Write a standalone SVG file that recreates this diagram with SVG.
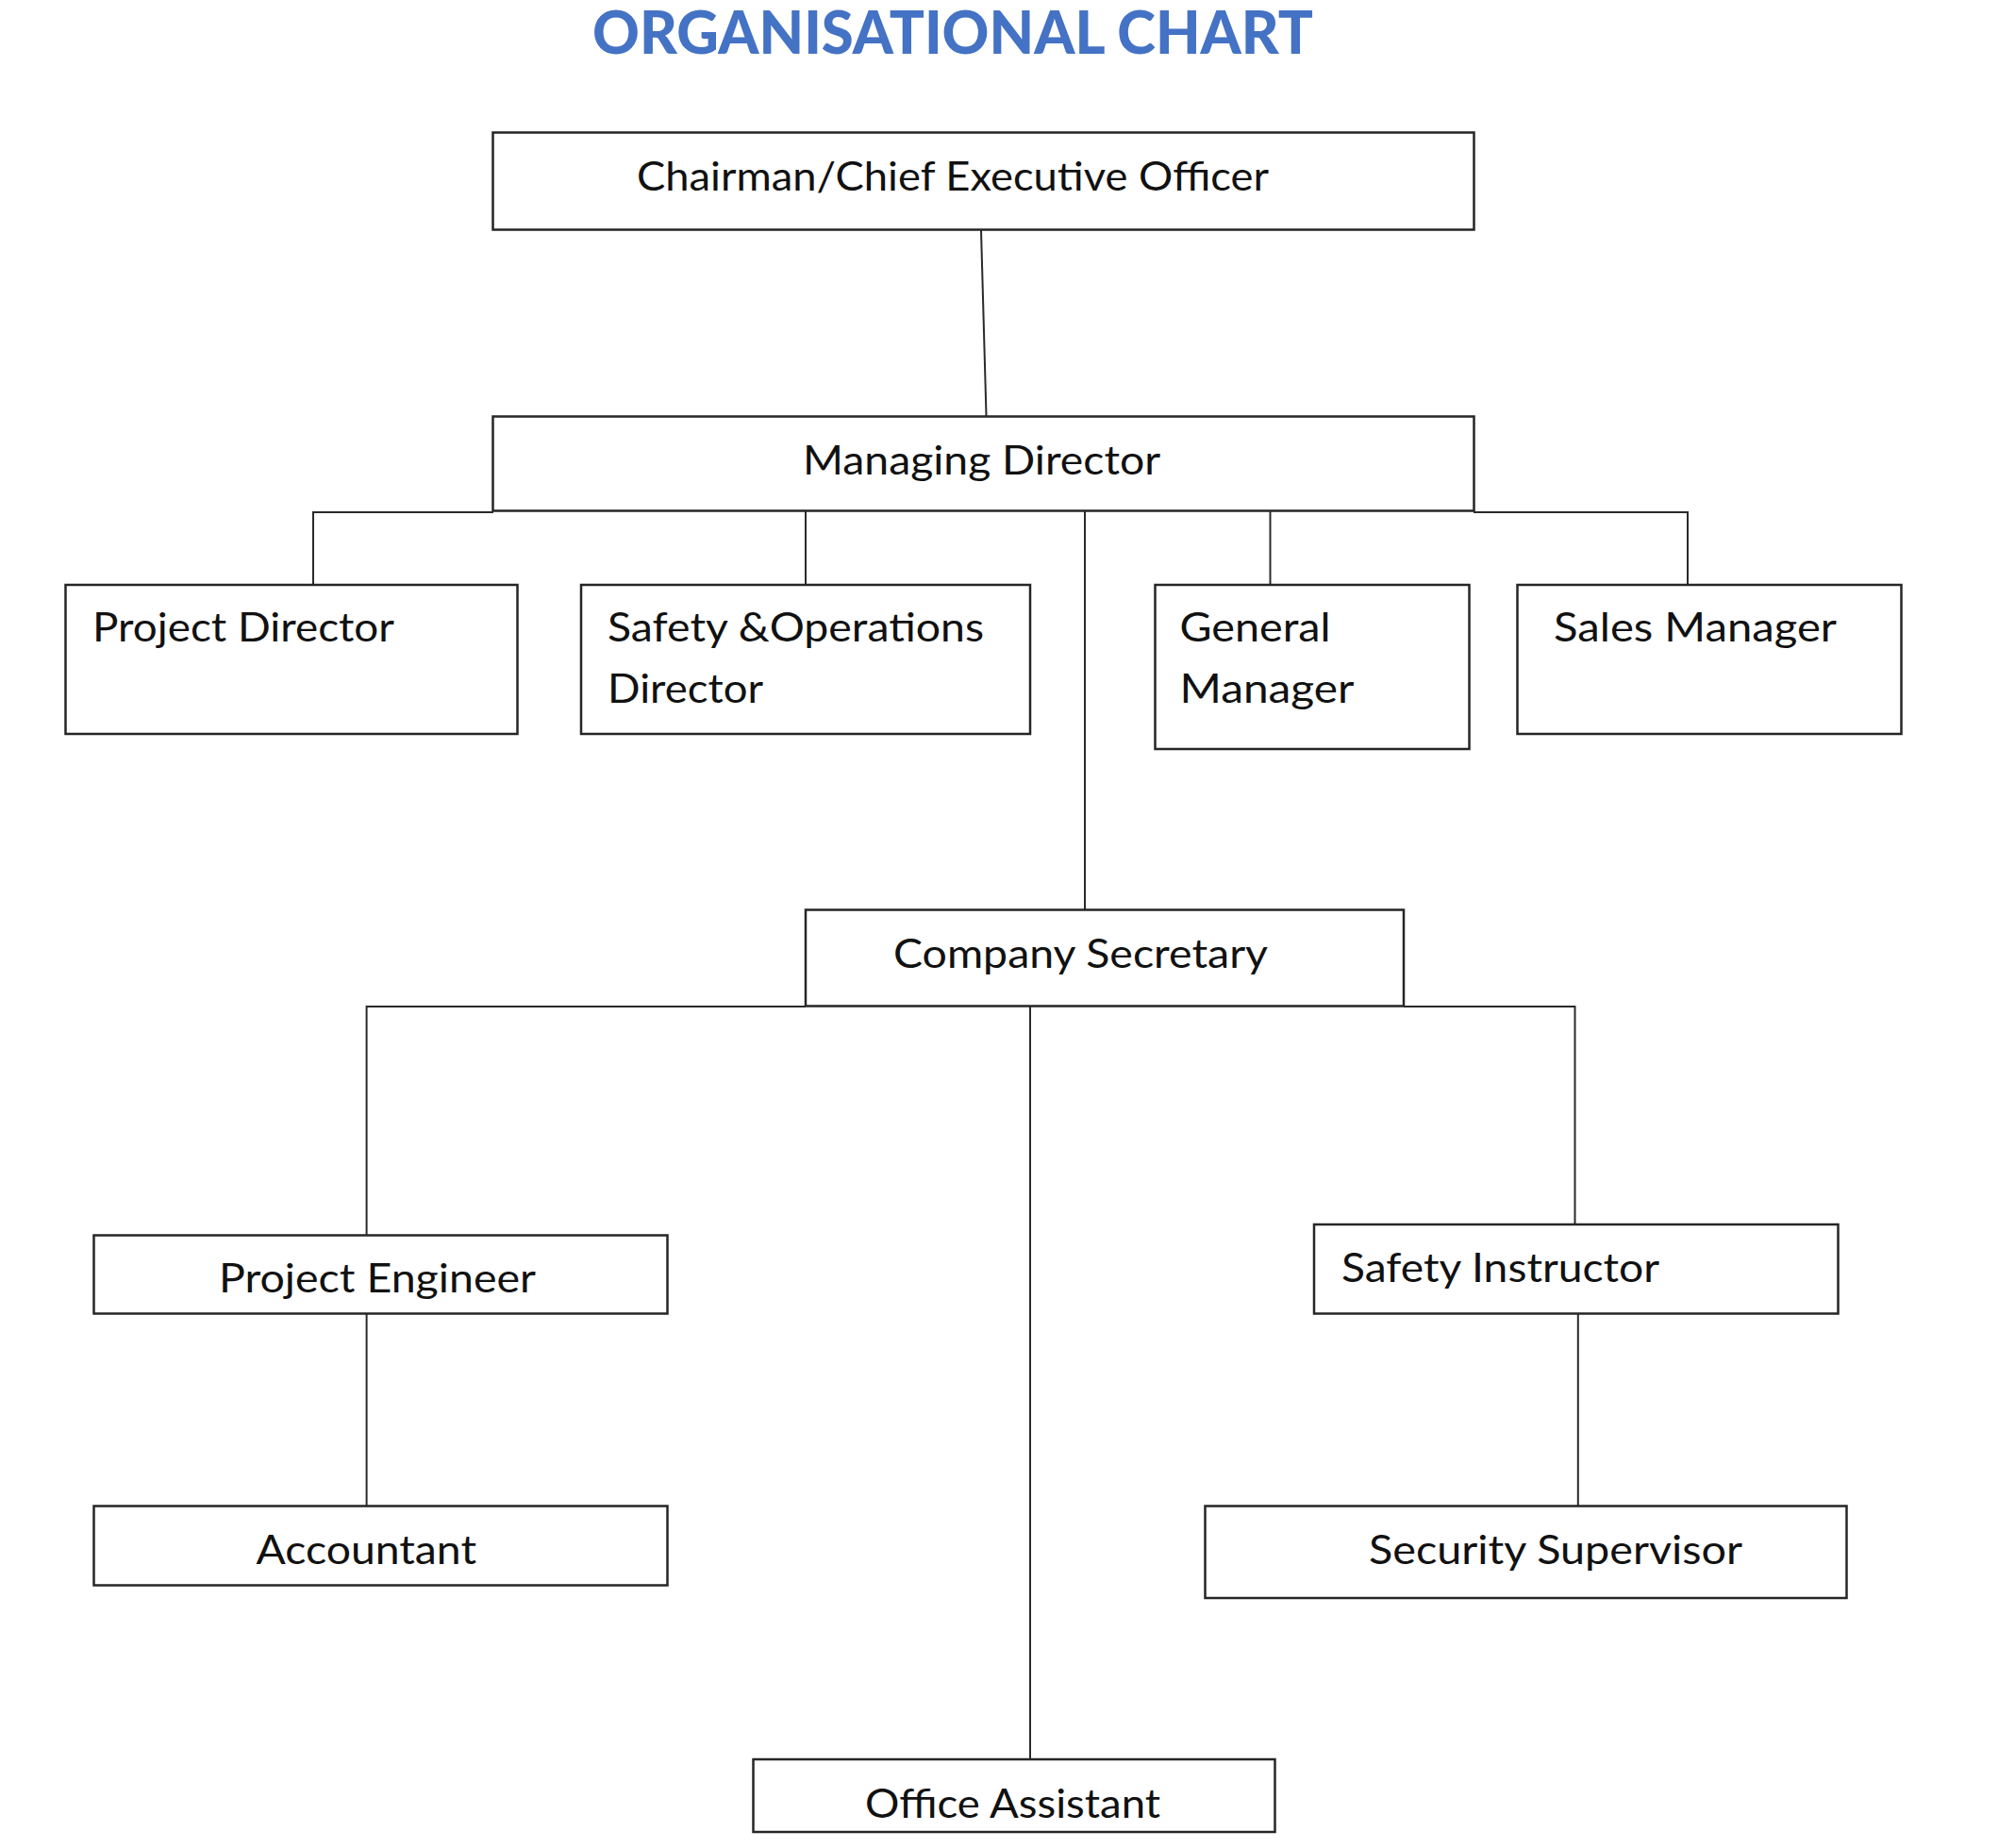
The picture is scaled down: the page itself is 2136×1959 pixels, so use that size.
<svg xmlns="http://www.w3.org/2000/svg" width="2136" height="1959" viewBox="0 0 2136 1959">
<style>
.box{fill:#fff;stroke:#262626;stroke-width:2.5}
.lbl{font-family:Lato,"Open Sans","Liberation Sans",sans-serif;font-size:43px;fill:#111}
.con{fill:none;stroke:#2a2a2a;stroke-width:2}
.title{font-family:Lato,"Liberation Sans",sans-serif;font-weight:900;font-size:62px;fill:#4472C4}
</style>
<rect width="2136" height="1959" fill="#fff"/>
<text class="title" x="628" y="57" textLength="764" lengthAdjust="spacingAndGlyphs">ORGANISATIONAL CHART</text>
<g id="connectors">
<path class="con" d="M1040,244 L1045.5,441"/>
<path class="con" d="M523,543 H332 V620"/>
<path class="con" d="M140,621.5 H332"/>
<path class="con" d="M854,542 V620"/>
<path class="con" d="M1150,542 V964"/>
<path class="con" d="M1346.5,542 V620"/>
<path class="con" d="M1562,543 H1789 V620"/>
<path class="con" d="M1789,621.5 H2015"/>
<path class="con" d="M854,1067 H388.6 V1309"/>
<path class="con" d="M119,1310.5 H388.6"/>
<path class="con" d="M1092,1067 V1865"/>
<path class="con" d="M1488,1067 H1669.5 V1298"/>
<path class="con" d="M1669.5,1299.5 H1850"/>
<path class="con" d="M388.6,1393 V1596.5"/>
<path class="con" d="M1672.8,1393 V1596.5"/>
</g>
<g id="ceo">
<rect class="box" x="522.5" y="140.5" width="1040" height="103"/>
<text class="lbl" x="675" y="202" textLength="670" lengthAdjust="spacingAndGlyphs">Chairman/Chief Executive Officer</text>
</g>
<g id="md">
<rect class="box" x="522.5" y="441.5" width="1040" height="100"/>
<text class="lbl" x="851" y="503" textLength="379" lengthAdjust="spacingAndGlyphs">Managing Director</text>
</g>
<g id="pd">
<rect class="box" x="69.5" y="620" width="479" height="158"/>
<text class="lbl" x="98" y="680" textLength="320" lengthAdjust="spacingAndGlyphs">Project Director</text>
</g>
<g id="sod">
<rect class="box" x="616" y="620" width="476" height="158"/>
<text class="lbl" x="644" y="680" textLength="399" lengthAdjust="spacingAndGlyphs">Safety &amp;Operations</text>
<text class="lbl" x="644" y="745" textLength="165" lengthAdjust="spacingAndGlyphs">Director</text>
</g>
<g id="gm">
<rect class="box" x="1224.5" y="620" width="333" height="174"/>
<text class="lbl" x="1250.5" y="680" textLength="160" lengthAdjust="spacingAndGlyphs">General</text>
<text class="lbl" x="1250.5" y="745" textLength="185" lengthAdjust="spacingAndGlyphs">Manager</text>
</g>
<g id="sm">
<rect class="box" x="1608.5" y="620" width="407" height="158"/>
<text class="lbl" x="1647" y="680" textLength="300" lengthAdjust="spacingAndGlyphs">Sales Manager</text>
</g>
<g id="cs">
<rect class="box" x="854" y="964.5" width="634" height="102"/>
<text class="lbl" x="947" y="1026" textLength="397" lengthAdjust="spacingAndGlyphs">Company Secretary</text>
</g>
<g id="pe">
<rect class="box" x="99.5" y="1309.5" width="608" height="83"/>
<text class="lbl" x="232" y="1370" textLength="336" lengthAdjust="spacingAndGlyphs">Project Engineer</text>
</g>
<g id="si">
<rect class="box" x="1393" y="1298" width="555.5" height="94.5"/>
<text class="lbl" x="1422" y="1359" textLength="337" lengthAdjust="spacingAndGlyphs">Safety Instructor</text>
</g>
<g id="acc">
<rect class="box" x="99.5" y="1596.5" width="608" height="84"/>
<text class="lbl" x="271.5" y="1658" textLength="233.5" lengthAdjust="spacingAndGlyphs">Accountant</text>
</g>
<g id="ss">
<rect class="box" x="1277.5" y="1596.5" width="680" height="97.5"/>
<text class="lbl" x="1451" y="1658" textLength="396" lengthAdjust="spacingAndGlyphs">Security Supervisor</text>
</g>
<g id="oa">
<rect class="box" x="798.5" y="1865" width="553" height="77"/>
<text class="lbl" x="917" y="1927" textLength="313" lengthAdjust="spacingAndGlyphs">Office Assistant</text>
</g>
</svg>
